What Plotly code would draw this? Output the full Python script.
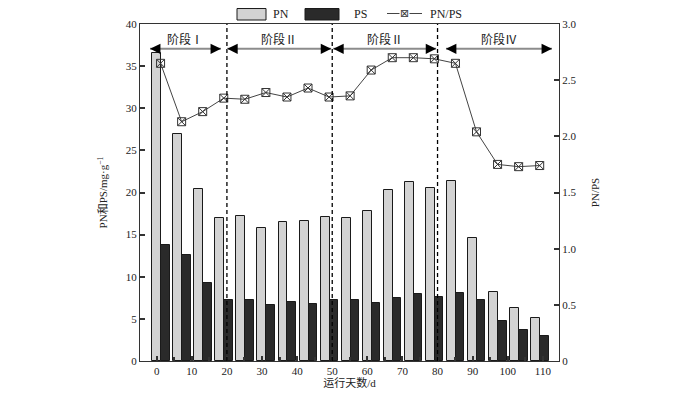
import plotly.graph_objects as go

# ---- data ----
days = [0, 6, 12, 18, 24, 30, 36, 42, 48, 54, 60, 66, 72, 78, 84, 90, 96, 102, 108]
pn = [36.5, 26.9, 20.4, 17.0, 17.2, 15.8, 16.5, 16.6, 17.1, 17.0, 17.8, 20.3, 21.3, 20.5, 21.4, 14.6, 8.2, 6.3, 5.1]
ps = [13.8, 12.6, 9.2, 7.3, 7.3, 6.6, 7.0, 6.8, 7.3, 7.2, 6.9, 7.5, 7.9, 7.6, 8.1, 7.2, 4.7, 3.7, 3.0]
ratio = [2.65, 2.13, 2.22, 2.34, 2.33, 2.39, 2.35, 2.43, 2.35, 2.36, 2.59, 2.70, 2.70, 2.69, 2.65, 2.04, 1.75, 1.73, 1.74]
x_ticks = [0, 10, 20, 30, 40, 50, 60, 70, 80, 90, 100, 110]
stage_bounds = [20, 50, 80]
stage_labels = ["阶段Ⅰ", "阶段Ⅱ", "阶段Ⅱ", "阶段Ⅳ"]
stage_spans = [(-1.9, 18.3), (20.1, 49.7), (50.3, 79.6), (82.4, 112.6)]
legend_names = ["PN", "PS", "PN/PS"]

FONT = "Liberation Serif, Noto Sans CJK SC, serif"
XR = [-4.76, 114.6]
PN_COLOR = "#d3d3d3"
PS_COLOR = "#2a2a2a"
EDGE = "#1a1a1a"

fig = go.Figure()
fig.add_trace(go.Bar(x=days, y=pn, name="PN", offset=-1.3, width=2.55,
                     marker=dict(color=PN_COLOR, line=dict(color=EDGE, width=1))))
fig.add_trace(go.Bar(x=days, y=ps, name="PS", offset=1.25, width=2.4,
                     marker=dict(color=PS_COLOR, line=dict(color=EDGE, width=1))))
fig.add_trace(go.Scatter(x=[d + 1.1 for d in days], y=ratio, name="PN/PS", yaxis="y2",
                         mode="lines+markers",
                         line=dict(color="#444444", width=1),
                         marker=dict(symbol="square-x-open", size=8, color="#333333",
                                     line=dict(width=1, color="#333333"))))

# stage boundaries (dashed)
for b in stage_bounds:
    fig.add_shape(type="line", x0=b, x1=b, y0=0, y1=1, xref="x", yref="paper",
                  line=dict(color="black", width=1.3, dash="4px,3px"))

# stage arrows
arrow_y = 37.05
for (a, b), lab in zip(stage_spans, stage_labels):
    fig.add_shape(type="line", x0=a, x1=b, y0=arrow_y, y1=arrow_y, xref="x", yref="y",
                  line=dict(color="#8c8c8c", width=2))
    fig.add_annotation(x=b, y=arrow_y, ax=-9, ay=0, xref="x", yref="y", text="",
                       showarrow=True, arrowhead=2, arrowsize=1.3, arrowwidth=1.6,
                       arrowcolor="black", standoff=0)
    fig.add_annotation(x=a, y=arrow_y, ax=9, ay=0, xref="x", yref="y", text="",
                       showarrow=True, arrowhead=2, arrowsize=1.3, arrowwidth=1.6,
                       arrowcolor="black", standoff=0)
    fig.add_annotation(x=(a + b) / 2, y=38.2, xref="x", yref="y", text=lab,
                       xanchor="center", yanchor="middle",
                       showarrow=False, font=dict(family=FONT, size=12, color="#222"))

# ---- manual legend (paper coords above the plot) ----
L, PW, B, PH = 140, 419, 361.5, 337.5
def px(x):
    return (x - L) / PW
def py(y):
    return (B - y) / PH
ly = py(13.5)
fig.add_shape(type="rect", xref="paper", yref="paper", x0=px(237), x1=px(266), y0=py(20), y1=py(8.5),
              fillcolor=PN_COLOR, line=dict(color=EDGE, width=1))
fig.add_shape(type="rect", xref="paper", yref="paper", x0=px(305), x1=px(339), y0=py(20), y1=py(8.5),
              fillcolor=PS_COLOR, line=dict(color=EDGE, width=1))
fig.add_shape(type="line", xref="paper", yref="paper", x0=px(387), x1=px(422), y0=ly, y1=ly,
              line=dict(color="#444444", width=1))
fig.add_annotation(xref="paper", yref="paper", x=px(404.5), y=ly, text="⊠", showarrow=False,
                   xanchor="center", yanchor="middle", bgcolor="white", borderpad=0,
                   font=dict(family="DejaVu Sans", size=11, color="#333"))
for name, cx in zip(legend_names, [281, 360, 446]):
    fig.add_annotation(xref="paper", yref="paper", x=px(cx), y=ly, text=name, showarrow=False,
                       xanchor="center", yanchor="middle",
                       font=dict(family=FONT, size=12, color="#222"))

axis_common = dict(showline=True, linecolor="#333333", linewidth=1, ticks="inside",
                   tickcolor="#333333", ticklen=5, tickwidth=1.5, showgrid=False, zeroline=False,
                   automargin=False, tickfont=dict(family=FONT, size=11, color="#222"))

# page body adds an 8px offset; plot area placed so it lands where the reference has it
fig.update_layout(
    width=700, height=395,
    margin=dict(l=132, r=149, t=16, b=41.5, autoexpand=False),
    plot_bgcolor="white", paper_bgcolor="white",
    bargap=0,
    showlegend=False,
    font=dict(family=FONT, size=11, color="#222"),
    xaxis=dict(range=XR, tickvals=x_ticks, mirror=True,
               title=dict(text="运行天数/d", standoff=3, font=dict(family=FONT, size=11)),
               minor=dict(dtick=5, tick0=0, ticks="inside", ticklen=4, tickcolor="#333333"),
               **axis_common),
    yaxis=dict(range=[0, 40], dtick=5,
               title=dict(text="PN和PS/mg·g<sup>−1</sup>", font=dict(family=FONT, size=11)),
               **axis_common),
    yaxis2=dict(range=[0, 3], overlaying="y", side="right",
                tickvals=[0, 0.5, 1.0, 1.5, 2.0, 2.5, 3.0],
                ticktext=["0", "0.5", "1.0", "1.5", "2.0", "2.5", "3.0"],
                title=dict(text="PN/PS", font=dict(family=FONT, size=11)),
                **axis_common),
)

fig.write_html("out.html")
